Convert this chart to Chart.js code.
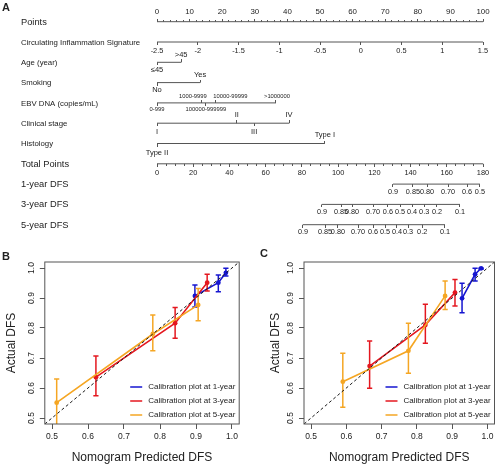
<!DOCTYPE html>
<html><head><meta charset="utf-8">
<script src="https://cdn.jsdelivr.net/npm/chart.js@4.4.0/dist/chart.umd.min.js"></script>
<style>
html,body{margin:0;padding:0;background:#fff;}
#wrap{position:relative;width:500px;height:468px;overflow:hidden;background:#fff;}
canvas{position:absolute;}
</style></head><body>
<div id="wrap">
<canvas id="nomo" width="500" height="240" style="left:0;top:0;width:500px;height:240px"></canvas>
<canvas id="calB" width="250" height="228" style="left:0;top:240px;width:250px;height:228px"></canvas>
<canvas id="calC" width="250" height="228" style="left:250px;top:240px;width:250px;height:228px"></canvas>
</div>
<script>
// ================= DATA =================
// ---- Nomogram (A) ----
const rowNames = ["Points","Circulating Inflammation Signature","Age (year)","Smoking","EBV DNA (copies/mL)","Clinical stage","Histology","Total Points","1-year DFS","3-year DFS","5-year DFS"];
const pointsTicks = [0,10,20,30,40,50,60,70,80,90,100];
const cisTicks = [-2.5,-2,-1.5,-1,-0.5,0,0.5,1,1.5];
const cisTickLabels = ["-2.5","-2","-1.5","-1","-0.5","0","0.5","1","1.5"];
const ageLevels = ["≤45",">45"];
const agePoints = [0,7.4];
const ageSide = ["below","above"];
const smokingLevels = ["No","Yes"];
const smokingPoints = [0,13.2];
const smokingSide = ["below","above"];
const ebvLevels = ["0-999","1000-9999","100000-999999","10000-99999",">1000000"];
const ebvPoints = [0,13.8,15,17.8,36.5];
const ebvLabelAt = [0,11,15,22.5,36.8];
const ebvSide = ["below","above","below","above","above"];
const stageLevels = ["I","II","III","IV"];
const stagePoints = [0,24.5,29.8,40.5];
const stageSide = ["below","above","below","above"];
const histLevels = ["Type II","Type I"];
const histPoints = [0,51.5];
const histSide = ["below","above"];
const totalTicks = [0,20,40,60,80,100,120,140,160,180];
const dfs1Labels = ["0.9","0.85","0.80","0.70","0.6","0.5"];
const dfs1Total  = [130.3,141.3,149.1,160.7,171.2,178.3];
const dfs3Labels = ["0.9","0.85","0.80","0.70","0.6","0.5","0.4","0.3","0.2","0.1"];
const dfs3Total  = [91.1,101.6,107.7,119.3,127.5,134.2,140.8,147.5,154.6,167.3];
const dfs5Labels = ["0.9","0.85","0.80","0.70","0.6","0.5","0.4","0.3","0.2","0.1"];
const dfs5Total  = [80.6,92.8,99.9,111,119.3,125.9,132.5,138.6,146.4,159];

// ---- Calibration (B, C) ----
const calRange = [0.48, 1.02];
const calTicks = [0.5,0.6,0.7,0.8,0.9,1.0];
const calTickLabels = ["0.5","0.6","0.7","0.8","0.9","1.0"];
const seriesNames = ["Calibration plot at 1-year","Calibration plot at 3-year","Calibration plot at 5-year"];
const seriesColors = ["#1515d0","#e4171f","#f5a623"];
// Panel B
const bPred1 = [0.897,0.962,0.983], bObs1 = [0.907,0.951,0.984], bLo1 = [0.870,0.921,0.973], bHi1 = [0.943,0.977,0.999];
const bPred3 = [0.622,0.842,0.931], bObs3 = [0.636,0.816,0.951], bLo3 = [0.574,0.766,0.923], bHi3 = [0.707,0.868,0.979];
const bPred5 = [0.513,0.780,0.906], bObs5 = [0.551,0.780,0.877], bLo5 = [0.470,0.724,0.824], bHi5 = [0.630,0.843,0.932];
// Panel C
const cPred1 = [0.928,0.965,0.982], cObs1 = [0.899,0.979,0.999], cLo1 = [0.851,0.957,0.996], cHi1 = [0.949,0.999,1.0];
const cPred3 = [0.666,0.824,0.908], cObs3 = [0.673,0.810,0.918], cLo3 = [0.599,0.749,0.873], cHi3 = [0.757,0.879,0.962];
const cPred5 = [0.590,0.776,0.880], cObs5 = [0.621,0.724,0.907], cLo5 = [0.536,0.649,0.862], cHi5 = [0.716,0.816,0.957];

// ================= STYLE =================
const FONT = "'Liberation Sans', Arial, Helvetica, sans-serif";
const LINE = '#555555';
const TEXT = '#222222';

// ================= NOMOGRAM =================
function tickImg(len, up) {
  const c = document.createElement('canvas');
  c.width = 1; c.height = len * 2;
  const g = c.getContext('2d');
  g.fillStyle = LINE;
  g.fillRect(0, up ? 0 : len, 1, len);
  return c;
}
const TICK_UP = tickImg(3, true), TICK_DN = tickImg(3, false);
const MTICK_UP = tickImg(2, true), MTICK_DN = tickImg(2, false);

const nDatasets = [];
const nLabels = [];
function addRow(axis, row, from, to) {
  nDatasets.push({data:[{x:from,y:row},{x:to,y:row}], xAxisID:axis, showLine:true, borderColor:LINE, borderWidth:1, pointRadius:0, clip:false});
}
function addTicks(axis, row, values, imgs) {
  nDatasets.push({data:values.map(v=>({x:v,y:row})), xAxisID:axis, showLine:false, pointRadius:1, pointBorderWidth:0,
    pointStyle: Array.isArray(imgs) ? imgs : values.map(()=>imgs), clip:false});
}
function addLabels(axis, row, values, texts, sides, size, offA, offB) {
  values.forEach((v,i)=>nLabels.push({axis,row,value:v,text:texts[i],side:sides[i],size,off:sides[i]==='above'?offA:offB}));
}
function sideImgs(sides){ return sides.map(s=> s==='above'?TICK_UP:TICK_DN); }
function minorBetween(ticks, step){ const out=[]; for(let v=ticks[0]; v<=ticks[ticks.length-1]+1e-9; v+=step){ if(!ticks.some(t=>Math.abs(t-v)<1e-6)) out.push(v);} return out; }

addRow('x',0,pointsTicks[0],pointsTicks[pointsTicks.length-1]);
addTicks('x',0,pointsTicks,TICK_UP);
addTicks('x',0,minorBetween(pointsTicks,2),MTICK_UP);
addLabels('x',0,pointsTicks,pointsTicks.map(String),pointsTicks.map(()=> 'above'),7.9,-9.5,0);
addRow('xc',1,cisTicks[0],cisTicks[cisTicks.length-1]);
addTicks('xc',1,cisTicks,TICK_DN);
addLabels('xc',1,cisTicks,cisTickLabels,cisTicks.map(()=>'below'),7.4,0,8.5);
addRow('x',2,Math.min(...agePoints),Math.max(...agePoints));
addTicks('x',2,agePoints,sideImgs(ageSide));
addLabels('x',2,agePoints,ageLevels,ageSide,7.5,-7,7.2);
addRow('x',3,Math.min(...smokingPoints),Math.max(...smokingPoints));
addTicks('x',3,smokingPoints,sideImgs(smokingSide));
addLabels('x',3,smokingPoints,smokingLevels,smokingSide,7.5,-7.2,7.4);
addRow('x',4,Math.min(...ebvPoints),Math.max(...ebvPoints));
addTicks('x',4,ebvPoints,sideImgs(ebvSide));
addLabels('x',4,ebvLabelAt,ebvLevels,ebvSide,5.8,-6.3,6.3);
addRow('x',5,Math.min(...stagePoints),Math.max(...stagePoints));
addTicks('x',5,stagePoints,sideImgs(stageSide));
addLabels('x',5,stagePoints,stageLevels,stageSide,7.5,-8.5,8.8);
addRow('x',6,Math.min(...histPoints),Math.max(...histPoints));
addTicks('x',6,histPoints,sideImgs(histSide));
addLabels('x',6,histPoints,histLevels,histSide,7.5,-8.5,9);
addRow('xt',7,totalTicks[0],totalTicks[totalTicks.length-1]);
addTicks('xt',7,totalTicks,TICK_DN);
addTicks('xt',7,minorBetween(totalTicks,5),MTICK_DN);
addLabels('xt',7,totalTicks,totalTicks.map(String),totalTicks.map(()=>'below'),7.4,0,9.5);
[[8,dfs1Total,dfs1Labels],[9,dfs3Total,dfs3Labels],[10,dfs5Total,dfs5Labels]].forEach(([r,vals,labs])=>{
  addRow('xt',r,Math.min(...vals),Math.max(...vals));
  addTicks('xt',r,vals,TICK_DN);
  addLabels('xt',r,vals,labs,vals.map(()=>'below'),7.3,0,7.5);
});

const nomoText = {
  id:'nomoText',
  afterDraw(chart){
    const {ctx} = chart; const ys = chart.scales.y;
    ctx.save();
    ctx.fillStyle = TEXT; ctx.textBaseline = 'middle';
    ctx.font = `bold 11px ${FONT}`; ctx.textAlign='left'; ctx.fillText('A',2,7.5);
    rowNames.forEach((n,i)=>{
      const big = (i===0||i>=7);
      ctx.font = `${big?9.3:7.8}px ${FONT}`;
      ctx.fillText(n, 21, ys.getPixelForValue(i)+0.5);
    });
    ctx.textAlign='center';
    nLabels.forEach(l=>{
      ctx.font = `${l.size}px ${FONT}`;
      ctx.fillText(l.text, chart.scales[l.axis].getPixelForValue(l.value), ys.getPixelForValue(l.row)+l.off);
    });
    ctx.restore();
  }
};

new Chart(document.getElementById('nomo'), {
  type:'scatter',
  data:{datasets:nDatasets},
  options:{
    responsive:false, animation:false, devicePixelRatio:1,
    layout:{padding:{left:157,right:17,top:21.7,bottom:15.3}},
    plugins:{legend:{display:false},tooltip:{enabled:false}},
    events:[],
    scales:{
      x:{type:'linear',axis:'x',min:pointsTicks[0],max:pointsTicks[pointsTicks.length-1],display:false},
      xc:{type:'linear',axis:'x',min:cisTicks[0],max:cisTicks[cisTicks.length-1],display:false},
      xt:{type:'linear',axis:'x',min:totalTicks[0],max:totalTicks[totalTicks.length-1],display:false},
      y:{type:'linear',min:0,max:rowNames.length-1,reverse:true,display:false}
    }
  },
  plugins:[nomoText]
});

// ================= CALIBRATION =================
function buildCal(series){
  const ds = [];
  ds.push({data:calRange.map(v=>({x:v,y:v})), showLine:true, borderColor:'#1a1a1a', borderWidth:1, borderDash:[3,2.5], pointRadius:0});
  [2,1,0].forEach(i=>{
    const s = series[i], col = seriesColors[i];
    ds.push({data:s.pred.map((p,k)=>({x:p,y:s.obs[k]})), showLine:true, borderColor:col, borderWidth:1.6,
      pointRadius:2.4, pointBackgroundColor:col, pointBorderWidth:0});
    s.pred.forEach((p,k)=>ds.push({data:[{x:p,y:s.lo[k]},{x:p,y:s.hi[k]}], showLine:true, borderColor:col, borderWidth:1.5,
      pointStyle:'line', pointRadius:2.6, pointBorderColor:col, pointBorderWidth:1.5}));
  });
  return ds;
}
const calBox = {
  id:'calBox',
  afterDatasetsDraw(chart){
    const {ctx, chartArea:a} = chart;
    ctx.save(); ctx.strokeStyle = '#555'; ctx.lineWidth = 1;
    ctx.strokeRect(a.left, a.top, a.right-a.left, a.bottom-a.top);
    ctx.restore();
  }
};
const calDecor = {
  id:'calDecor',
  afterDraw(chart, args, o){
    const {ctx, chartArea:a} = chart;
    ctx.save();
    ctx.fillStyle = TEXT; ctx.textBaseline='middle'; ctx.textAlign='left';
    ctx.font = `bold 11px ${FONT}`; ctx.fillText(o.letter, o.lx, o.ly);
    ctx.font = `8px ${FONT}`;
    seriesNames.forEach((n,i)=>{
      const y = a.bottom - 37 + i*14;
      ctx.strokeStyle = seriesColors[i]; ctx.lineWidth = 1.5;
      ctx.beginPath(); ctx.moveTo(a.right-109, y); ctx.lineTo(a.right-97, y); ctx.stroke();
      ctx.fillStyle = TEXT; ctx.fillText(n, a.right-91, y);
    });
    ctx.restore();
  }
};
function makeCal(id, series, yWidth, titlePad, rightPad, letter, lx, ly){
  new Chart(document.getElementById(id), {
    type:'scatter',
    data:{datasets:buildCal(series)},
    options:{
      responsive:false, animation:false, devicePixelRatio:1, events:[],
      layout:{padding:{left:0,right:rightPad,top:22,bottom:0}},
      plugins:{legend:{display:false},tooltip:{enabled:false},calDecor:{letter,lx,ly}},
      scales:{
        x:{type:'linear',min:calRange[0],max:calRange[1],
          afterBuildTicks:s=>{s.ticks = calTicks.map(v=>({value:v}));},
          afterFit:s=>{s.height = 44;},
          ticks:{font:{family:FONT,size:8.5},color:TEXT,padding:3,callback:(v,i)=>calTickLabels[i]},
          grid:{drawOnChartArea:false,drawTicks:true,tickLength:5,color:'#555'},
          border:{display:false},
          title:{display:true,text:'Nomogram Predicted DFS',font:{family:FONT,size:12},color:TEXT,padding:{top:0,bottom:2.8}}
        },
        y:{type:'linear',min:calRange[0],max:calRange[1],
          afterBuildTicks:s=>{s.ticks = calTicks.map(v=>({value:v}));},
          afterFit:s=>{s.width = yWidth;},
          ticks:{font:{family:FONT,size:8.5},color:TEXT,padding:2,minRotation:90,maxRotation:90,crossAlign:'center',callback:(v,i)=>calTickLabels[i]},
          grid:{drawOnChartArea:false,drawTicks:true,tickLength:5,color:'#555'},
          border:{display:false},
          title:{display:true,text:'Actual DFS',font:{family:FONT,size:12},color:TEXT,padding:{top:titlePad,bottom:0}}
        }
      }
    },
    plugins:[calBox, calDecor]
  });
}
makeCal('calB', [
  {pred:bPred1,obs:bObs1,lo:bLo1,hi:bHi1},
  {pred:bPred3,obs:bObs3,lo:bLo3,hi:bHi3},
  {pred:bPred5,obs:bObs5,lo:bLo5,hi:bHi5}], 44.8, 4.5, 10.8, 'B', 2, 17);
makeCal('calC', [
  {pred:cPred1,obs:cObs1,lo:cLo1,hi:cHi1},
  {pred:cPred3,obs:cObs3,lo:cLo3,hi:cHi3},
  {pred:cPred5,obs:cObs5,lo:cLo5,hi:cHi5}], 54, 18.5, 2, 'C', 10, 14);
</script>
</body></html>
